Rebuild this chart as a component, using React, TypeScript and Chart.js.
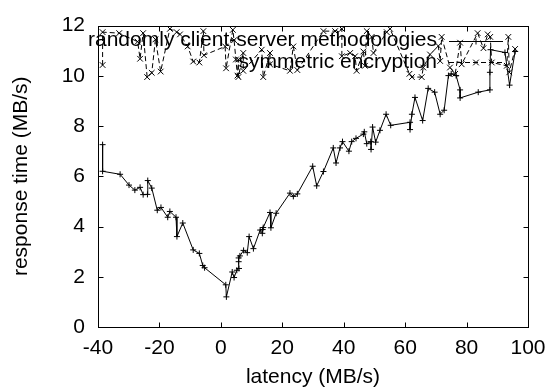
import React, { useEffect, useRef } from 'react';
import { Chart, registerables } from 'chart.js';

Chart.register(...registerables);

const FONT = '"Liberation Sans", Arial, Helvetica, sans-serif';

const xTicks = [-40, -20, 0, 20, 40, 60, 80, 100];
const yTicks = [0, 2, 4, 6, 8, 10, 12];
const seriesNames = ['randomly client-server methodologies', 'symmetric encryption'];
const xLabel = 'latency (MB/s)';
const yLabel = 'response time (MB/s)';

const clientServerX = [
  -38.5, -38.5, -32.8, -29.9, -28.0, -26.3, -25.3, -23.9, -23.8, -22.5, -20.7, -19.5, -17.3, -16.6,
  -14.6, -14.3, -12.4, -9.0, -7.0, -5.9, -5.3, 1.6, 1.8, 3.7, 4.3, 5.2, 5.9, 5.8, 5.8, 6.2, 7.4,
  8.6, 9.2, 10.6, 12.8, 13.5, 13.6, 13.8, 16.0, 16.3, 18.0, 22.5, 23.6, 24.9, 29.9, 31.2, 33.4, 36.6,
  37.5, 38.8, 39.6, 41.7, 42.6, 44.0, 46.4, 46.7, 47.5, 48.8, 48.9, 49.4, 50.4, 51.8, 53.8, 55.3,
  61.6, 61.6, 62.2, 63.2, 65.7, 67.5, 69.6, 71.4, 72.7, 74.1, 75.0, 76.6, 77.9, 77.9, 83.8, 87.6,
  87.6, 87.8, 92.5, 94.0, 95.8,
];
const clientServerY = [
  7.26, 6.2, 6.08, 5.65, 5.45, 5.56, 5.27, 5.28, 5.83, 5.53, 4.65, 4.76, 4.37, 4.6,
  4.37, 3.6, 4.14, 3.07, 2.93, 2.45, 2.36, 1.68, 1.2, 2.19, 1.97, 2.26, 2.33, 2.6, 2.75, 2.83, 3.05,
  2.96, 3.6, 3.12, 3.86, 3.73, 3.88, 3.96, 4.56, 3.95, 4.53, 5.33, 5.2, 5.3, 6.4, 5.62, 6.19, 7.13,
  6.53, 7.13, 7.38, 7.0, 7.38, 7.51, 7.68, 7.77, 7.3, 7.38, 7.07, 7.96, 7.36, 7.83, 8.47, 8.03,
  8.15, 7.86, 8.47, 9.14, 8.22, 9.5, 9.35, 8.47, 8.63, 10.01, 10.08, 10.01, 9.44, 9.12, 9.35, 9.44,
  10.14, 11.04, 10.93, 9.63, 10.97,
];

const symmetricX = [
  -38.5, -38.5, -33.1, -27.1, -26.3, -25.3, -24.0, -22.5, -21.3, -19.6, -16.6, -14.4, -13.3, -10.8,
  -9.0, -7.0, -5.7, -5.5, 1.4, 1.7, 3.9, 4.3, 4.9, 5.4, 5.7, 5.7, 7.3, 7.3, 13.3, 13.8, 16.0, 16.0,
  22.5, 23.6, 24.9, 33.4, 37.2, 39.4, 39.4, 42.1, 43.7, 44.2, 46.4, 46.9, 47.5, 49.1, 49.7, 54.0,
  55.1, 61.4, 62.2, 65.4, 65.9, 68.1, 70.8, 71.4, 71.9, 74.6, 76.3, 77.9, 78.4, 83.6, 85.5, 86.9,
  87.7, 88.2, 93.1, 93.6, 93.9, 95.8,
];
const symmetricY = [
  10.43, 11.74, 11.7, 11.36, 10.68, 11.7, 9.95, 10.12, 11.45, 10.17, 11.87, 11.74, 11.65, 11.17,
  10.57, 10.53, 11.78, 10.82, 11.17, 10.3, 11.83, 11.42, 10.65, 10.01, 10.65, 9.95, 10.91, 10.2,
  11.04, 9.95, 10.91, 10.46, 10.2, 11.17, 10.23, 11.78, 11.78, 11.87, 10.78, 10.91, 10.78, 10.2,
  10.97, 10.4, 11.78, 11.55, 10.91, 11.74, 11.87, 10.08, 9.95, 9.95, 10.33, 10.85, 11.19, 10.59,
  11.55, 10.33, 10.08, 11.32, 10.46, 11.7, 11.1, 11.65, 11.55, 10.53, 10.4, 11.55, 10.14, 11.07,
];

const toPoints = (xs: number[], ys: number[]) => xs.map((x, i) => ({ x, y: ys[i] }));

const drawMarker = (ctx: CanvasRenderingContext2D, style: string, cx: number, cy: number, r: number) => {
  ctx.beginPath();
  if (style === 'cross') {
    ctx.moveTo(cx - r, cy);
    ctx.lineTo(cx + r, cy);
    ctx.moveTo(cx, cy - r);
    ctx.lineTo(cx, cy + r);
  } else {
    const d = r * Math.SQRT1_2;
    ctx.moveTo(cx - d, cy - d);
    ctx.lineTo(cx + d, cy + d);
    ctx.moveTo(cx - d, cy + d);
    ctx.lineTo(cx + d, cy - d);
  }
  ctx.stroke();
};

const gnuFrame = {
  id: 'gnuFrame',
  afterDraw(chart: any) {
    const { ctx, chartArea: a, scales } = chart;
    const xs = scales.x;
    const ys = scales.y;
    ctx.save();
    ctx.strokeStyle = '#000';
    ctx.lineWidth = 1;
    ctx.setLineDash([]);
    const L = Math.round(a.left) + 0.5;
    const R = Math.round(a.right) + 0.5;
    const T = Math.round(a.top) + 0.5;
    const B = Math.round(a.bottom) + 0.5;
    ctx.strokeRect(L, T, R - L, B - T);
    const tl = 5;
    ctx.beginPath();
    xTicks.forEach((v) => {
      const p = Math.round(xs.getPixelForValue(v)) + 0.5;
      ctx.moveTo(p, B);
      ctx.lineTo(p, B - tl);
      ctx.moveTo(p, T);
      ctx.lineTo(p, T + tl);
    });
    yTicks.forEach((v) => {
      const p = Math.round(ys.getPixelForValue(v)) + 0.5;
      ctx.moveTo(L, p);
      ctx.lineTo(L + tl, p);
      ctx.moveTo(R, p);
      ctx.lineTo(R - tl, p);
    });
    ctx.stroke();

    // gnuplot-style key, top right inside the plot
    ctx.font = `21px ${FONT}`;
    ctx.fillStyle = '#000';
    ctx.textAlign = 'right';
    ctx.textBaseline = 'middle';
    const rows = [
      { y: a.top + 15, dash: [] as number[], marker: 'cross' },
      { y: a.top + 36.5, dash: [5, 3], marker: 'crossRot' },
    ];
    const textRight = a.right - 91;
    const lineL = a.right - 79;
    const lineR = a.right - 25;
    rows.forEach((row, i) => {
      ctx.fillText(seriesNames[i], textRight, row.y);
      ctx.setLineDash(row.dash);
      ctx.beginPath();
      ctx.moveTo(lineL, Math.round(row.y) + 0.5);
      ctx.lineTo(lineR, Math.round(row.y) + 0.5);
      ctx.stroke();
      ctx.setLineDash([]);
      drawMarker(ctx, row.marker, (lineL + lineR) / 2, Math.round(row.y) + 0.5, row.marker === 'cross' ? 3 : 4);
    });
    ctx.restore();
  },
};

export default function App() {
  const ref = useRef<HTMLCanvasElement | null>(null);

  useEffect(() => {
    document.body.style.margin = '0';
    const canvas = ref.current;
    if (!canvas) return;
    const tickFont = { family: FONT, size: 21 };
    const chart = new Chart(canvas, {
      type: 'scatter',
      data: {
        datasets: [
          {
            label: seriesNames[0],
            data: toPoints(clientServerX, clientServerY),
            showLine: true,
            borderColor: '#000',
            backgroundColor: '#000',
            borderWidth: 1,
            pointStyle: 'cross',
            pointRadius: 3,
            pointBorderWidth: 1,
            pointHoverRadius: 3,
          },
          {
            label: seriesNames[1],
            data: toPoints(symmetricX, symmetricY),
            showLine: true,
            borderColor: '#000',
            backgroundColor: '#000',
            borderWidth: 1,
            borderDash: [5, 3],
            pointStyle: 'crossRot',
            pointRadius: 4,
            pointBorderWidth: 1,
            pointHoverRadius: 4,
          },
        ],
      },
      options: {
        animation: false,
        responsive: false,
        devicePixelRatio: 1,
        events: [],
        layout: { padding: { top: 15, right: 32, left: 0, bottom: 0 } },
        plugins: {
          legend: { display: false },
          tooltip: { enabled: false },
        },
        scales: {
          x: {
            type: 'linear',
            min: -40,
            max: 100,
            afterBuildTicks: (s: any) => {
              s.ticks = xTicks.map((v) => ({ value: v }));
            },
            afterFit: (s: any) => {
              s.height = 65;
            },
            grid: { display: false, drawTicks: false },
            border: { display: false },
            ticks: { color: '#000', font: tickFont, padding: 9, maxRotation: 0, autoSkip: false },
            title: {
              display: true,
              text: xLabel,
              color: '#000',
              font: tickFont,
              padding: { top: 0, bottom: 2 },
            },
          },
          y: {
            type: 'linear',
            min: 0,
            max: 12,
            afterBuildTicks: (s: any) => {
              s.ticks = yTicks.map((v) => ({ value: v }));
            },
            afterFit: (s: any) => {
              s.width = 98;
            },
            grid: { display: false, drawTicks: false },
            border: { display: false },
            ticks: { color: '#000', font: tickFont, padding: 13, autoSkip: false },
            title: {
              display: true,
              text: yLabel,
              color: '#000',
              font: tickFont,
              padding: { top: 9, bottom: 0 },
            },
          },
        },
      },
      plugins: [gnuFrame],
    });
    return () => chart.destroy();
  }, []);

  return (
    <div style={{ position: 'absolute', left: 0, top: 0, width: 560, height: 392, background: '#fff' }}>
      <canvas ref={ref} width={560} height={392} style={{ width: 560, height: 392 }} />
    </div>
  );
}
